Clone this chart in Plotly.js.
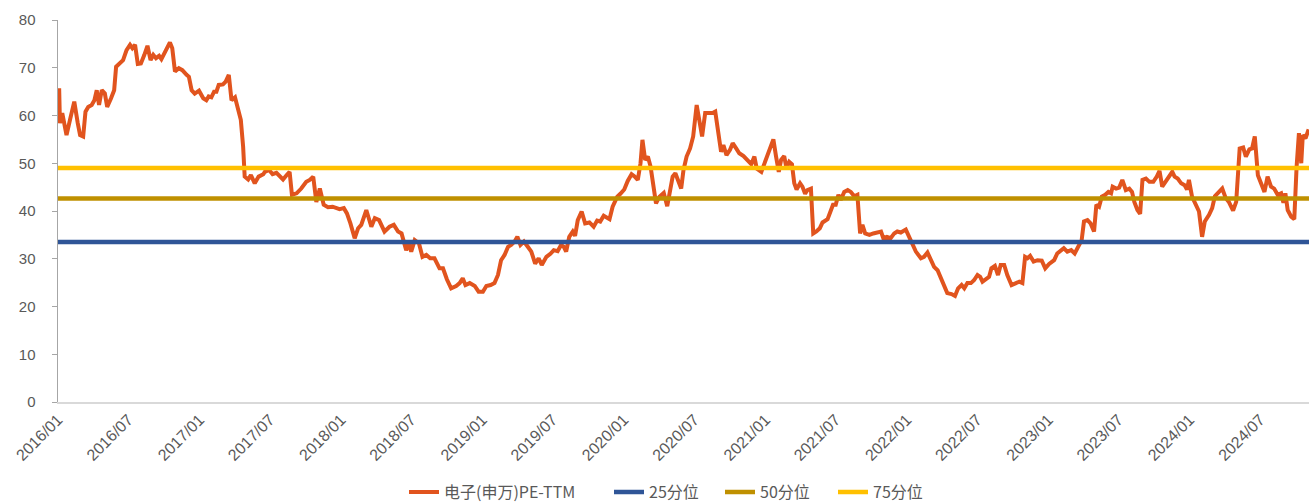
<!DOCTYPE html>
<html>
<head>
<meta charset="utf-8">
<script src="https://cdn.plot.ly/plotly-3.0.1.min.js"></script>
<style>
html,body{margin:0;padding:0;background:#fff;}
#chart{width:1314px;height:502px;}
</style>
</head>
<body>
<div id="chart"></div>
<script>
// Series: 电子(申万)PE-TTM
const dates = [
"2016-01-04","2016-01-06","2016-01-12","2016-01-17","2016-01-23","2016-02-01","2016-02-12","2016-02-21","2016-02-27","2016-03-06",
"2016-03-12","2016-03-19","2016-03-28","2016-04-04","2016-04-10","2016-04-16","2016-04-23","2016-05-01","2016-05-07","2016-05-17",
"2016-05-25","2016-05-30","2016-06-09","2016-06-17","2016-06-26","2016-07-05","2016-07-11","2016-07-18","2016-07-25","2016-08-02",
"2016-08-11","2016-08-19","2016-08-27","2016-09-03","2016-09-10","2016-09-18","2016-09-24","2016-10-03","2016-10-16","2016-10-22",
"2016-10-29","2016-11-08","2016-11-17","2016-11-28","2016-12-04","2016-12-11","2016-12-19","2016-12-30",
"2017-01-10","2017-01-18","2017-01-24","2017-01-31","2017-02-07","2017-02-13","2017-02-19","2017-03-02","2017-03-09","2017-03-17",
"2017-03-24","2017-04-02","2017-04-10","2017-04-17","2017-04-23","2017-04-27","2017-05-06","2017-05-13","2017-05-23","2017-06-02",
"2017-06-14","2017-06-18","2017-06-29","2017-07-08","2017-07-18","2017-07-27","2017-08-04","2017-08-13","2017-08-21","2017-08-27",
"2017-09-08","2017-09-20","2017-10-03","2017-10-12","2017-10-21","2017-10-29","2017-11-07","2017-11-17","2017-11-28","2017-12-10",
"2017-12-18","2017-12-28",
"2018-01-08","2018-01-16","2018-01-25","2018-02-05","2018-02-14","2018-02-22","2018-03-07","2018-03-20","2018-03-29","2018-04-09",
"2018-04-23","2018-05-06","2018-05-17","2018-05-28","2018-06-06","2018-06-11","2018-06-18","2018-06-25","2018-07-01","2018-07-10",
"2018-07-21","2018-07-30","2018-08-09","2018-08-19","2018-08-30","2018-09-12","2018-09-21","2018-10-01","2018-10-12","2018-10-25",
"2018-11-03","2018-11-11","2018-11-18","2018-11-29","2018-12-03","2018-12-12","2018-12-22",
"2019-01-02","2019-01-11","2019-01-22","2019-02-01","2019-02-10","2019-02-18","2019-02-27","2019-03-08","2019-03-16","2019-03-25",
"2019-04-01","2019-04-09","2019-04-18","2019-04-28","2019-05-07","2019-05-17","2019-05-26","2019-06-03","2019-06-15","2019-06-26",
"2019-07-04","2019-07-14","2019-07-23","2019-07-30","2019-08-05","2019-08-13","2019-08-22","2019-08-28","2019-09-04","2019-09-14",
"2019-09-23","2019-10-04","2019-10-15","2019-10-24","2019-11-01","2019-11-10","2019-11-19","2019-11-25","2019-12-03","2019-12-15",
"2019-12-23",
"2020-01-02","2020-01-11","2020-01-21","2020-01-28","2020-02-06","2020-02-13","2020-02-18","2020-02-25","2020-03-03","2020-03-10",
"2020-03-18","2020-03-24","2020-04-02","2020-04-13","2020-04-22","2020-04-27","2020-05-06","2020-05-13","2020-05-19","2020-05-28",
"2020-06-03","2020-06-11","2020-06-20","2020-06-28","2020-07-07","2020-07-14","2020-07-21","2020-07-29","2020-08-09","2020-08-17",
"2020-08-24","2020-09-02","2020-09-08","2020-09-14","2020-09-22","2020-10-01","2020-10-08","2020-10-17","2020-10-25","2020-11-05",
"2020-11-16","2020-11-25","2020-12-03","2020-12-09","2020-12-21","2020-12-29",
"2021-01-09","2021-01-21","2021-01-28","2021-02-04","2021-02-10","2021-02-18","2021-02-24","2021-03-03","2021-03-10","2021-03-16",
"2021-03-22","2021-03-31","2021-04-06","2021-04-13","2021-04-19","2021-04-28","2021-05-04","2021-05-12","2021-05-21","2021-05-28",
"2021-06-10","2021-06-18","2021-06-24","2021-07-01","2021-07-08","2021-07-14","2021-07-23","2021-08-01","2021-08-09","2021-08-18",
"2021-08-26","2021-09-02","2021-09-08","2021-09-15","2021-09-26","2021-10-06","2021-10-20","2021-10-26","2021-11-01","2021-11-10",
"2021-11-20","2021-11-29","2021-12-07","2021-12-16","2021-12-29",
"2022-01-07","2022-01-15","2022-01-24","2022-02-06","2022-02-14","2022-02-23","2022-03-04","2022-03-12","2022-03-21","2022-03-29",
"2022-04-07","2022-04-15","2022-04-26","2022-05-05","2022-05-13","2022-05-22","2022-05-29","2022-06-06","2022-06-15","2022-06-23",
"2022-07-02","2022-07-09","2022-07-15","2022-07-24","2022-08-01","2022-08-07","2022-08-16","2022-08-24","2022-08-31","2022-09-09",
"2022-09-17","2022-09-28","2022-10-09","2022-10-18","2022-10-26","2022-11-02","2022-11-08","2022-11-15","2022-11-24","2022-12-04",
"2022-12-15","2022-12-24",
"2023-01-03","2023-01-16","2023-01-24","2023-02-02","2023-02-10","2023-02-19","2023-03-01","2023-03-10","2023-03-19","2023-03-28",
"2023-04-03","2023-04-12","2023-04-20","2023-04-29","2023-05-05","2023-05-12","2023-05-19","2023-05-28","2023-06-05","2023-06-12",
"2023-06-16","2023-06-25","2023-07-03","2023-07-11","2023-07-20","2023-07-29","2023-08-05","2023-08-11","2023-08-19","2023-08-26",
"2023-09-01","2023-09-10","2023-09-19","2023-09-29","2023-10-08","2023-10-15","2023-10-22","2023-10-30","2023-11-08","2023-11-17",
"2023-11-23","2023-12-01","2023-12-10","2023-12-19","2023-12-25","2023-12-30",
"2024-01-07","2024-01-16","2024-01-25","2024-02-02","2024-02-09","2024-02-20","2024-02-28","2024-03-06","2024-03-16","2024-03-25",
"2024-04-03","2024-04-11","2024-04-22","2024-04-30","2024-05-09","2024-05-18","2024-05-25","2024-06-03","2024-06-10","2024-06-17",
"2024-06-25","2024-07-04","2024-07-12","2024-07-20","2024-07-29","2024-08-06","2024-08-15","2024-08-24","2024-08-30","2024-09-04",
"2024-09-10","2024-09-19","2024-09-27","2024-10-03","2024-10-09","2024-10-15","2024-10-19","2024-10-26","2024-11-03"
];
const peTTM = [
65.7,58.4,60.5,58.4,55.9,59.1,62.9,58.4,55.9,55.6,
60.8,61.8,62.2,63.2,65.3,62.2,65.3,64.6,61.8,63.6,
65.3,70.2,71.1,71.6,73.7,74.8,74.1,74.8,70.8,70.9,
72.7,74.6,71.6,72.7,72.0,72.5,71.8,73.4,75.3,74.1,
69.2,69.9,69.5,68.5,68.1,65.3,64.6,65.2,
63.6,63.2,64.0,63.8,65.0,65.0,66.4,66.5,67.1,68.5,
63.2,63.8,61.2,59.1,53.5,47.2,46.6,47.5,45.8,47.2,
47.7,48.2,48.6,47.7,48.0,47.3,46.6,47.5,48.2,43.4,
43.7,44.7,46.1,46.5,47.2,41.9,44.7,41.3,40.8,40.9,
40.6,40.4,
40.6,39.5,37.4,34.3,36.4,37.1,40.2,36.7,38.5,38.1,
35.7,36.7,37.1,35.7,35.3,33.9,31.8,33.2,31.5,33.9,
33.2,30.4,30.8,30.1,30.1,28.0,28.0,25.7,23.8,24.3,
24.9,25.9,24.5,24.9,24.7,24.3,23.1,
23.1,24.3,24.5,24.9,26.6,29.7,30.8,32.5,32.9,33.6,
34.6,32.9,33.6,32.5,31.5,29.0,30.1,28.7,30.4,31.1,
31.8,31.6,32.9,32.5,31.5,34.6,35.7,34.8,38.1,39.9,
37.4,37.6,36.7,38.0,37.8,39.0,38.7,38.3,40.9,43.0,
43.6,
44.5,46.3,47.7,47.3,46.5,50.0,54.9,50.7,51.4,49.3,
44.4,41.6,43.0,43.8,41.0,43.7,47.2,47.9,46.5,44.7,
48.6,51.4,53.1,55.6,62.2,58.4,55.6,60.5,60.6,60.5,
60.8,56.3,52.4,53.8,51.7,52.8,54.2,53.1,52.1,51.5,
50.7,49.8,51.4,48.9,48.2,50.0,
52.4,55.0,51.4,48.2,50.7,51.5,48.9,50.3,49.8,45.8,
44.5,45.8,45.1,43.6,44.4,44.7,35.3,35.7,36.4,37.6,
38.3,39.9,41.3,41.3,43.4,42.3,44.0,44.4,44.0,43.1,
43.4,35.3,37.1,35.3,35.0,35.3,35.5,35.7,34.3,34.6,
34.3,35.3,35.7,35.5,36.1,
34.6,33.2,31.5,30.1,30.4,31.3,29.7,28.3,27.6,25.9,
24.1,22.8,22.6,22.2,23.8,24.5,23.8,24.9,24.9,25.5,
26.6,26.2,25.2,25.7,26.2,28.0,28.5,26.6,28.7,28.7,
26.6,24.5,24.9,25.2,24.9,30.4,30.1,30.6,29.4,29.7,
29.6,28.0,
28.9,29.7,31.1,31.8,32.2,31.5,31.8,31.1,32.5,33.9,
37.8,38.1,37.4,35.7,41.3,40.9,43.0,43.4,44.0,43.7,
45.1,44.7,44.9,46.5,44.4,44.7,44.0,41.9,40.2,39.4,
46.5,46.8,46.1,46.1,47.2,48.4,45.1,46.1,47.3,48.2,
47.2,46.8,45.8,45.4,44.5,46.5,
43.0,41.3,39.9,34.6,37.8,39.2,40.6,43.1,43.8,44.7,
42.7,41.9,40.1,41.9,53.1,53.3,51.4,52.9,53.1,55.6,
47.5,45.4,44.0,47.2,45.1,44.7,43.4,43.7,41.7,43.7,
40.2,38.8,38.3,49.3,56.3,50.0,55.9,55.2,57.1
];
// Percentile levels
const levelNames = ["25分位", "50分位", "75分位"];
const levelValues = [33.5, 42.6, 49.0];
const levelColors = ["#2F5597", "#BF9000", "#FFC000"];
const seriesName = "电子(申万)PE-TTM";
const xRange = ["2016-01-01", "2024-11-04"];

const traces = [{
  x: dates, y: peTTM, type: "scatter", mode: "lines", name: seriesName,
  line: {color: "#E1541E", width: 4}, legendwidth: 160
}];
const lw = [66, 68, 70];
levelNames.forEach((n, i) => {
  traces.push({
    x: [xRange[0], xRange[1]], y: [levelValues[i], levelValues[i]],
    type: "scatter", mode: "lines", name: n,
    line: {color: levelColors[i], width: 4.5}, legendwidth: lw[i]
  });
});

const layout = {
  width: 1314, height: 502,
  margin: {l: 58, r: 5, t: 20, b: 100, autoexpand: false},
  paper_bgcolor: "#fff", plot_bgcolor: "#fff",
  font: {family: "Liberation Sans, Arial, sans-serif", color: "#595959", size: 14},
  showlegend: true,
  legend: {orientation: "h", x: 0.0, xanchor: "left", xref: "paper", y: -0.236, yanchor: "middle",
    font: {family: "Noto Sans CJK SC, sans-serif", size: 16, color: "#595959"},
    traceorder: "normal"},
  xaxis: {
    type: "date", range: xRange, dtick: "M6", tick0: "2016-01-01", automargin: false,
    tickformat: "%Y/%m", tickangle: -45, showgrid: false, zeroline: false,
    showline: true, linecolor: "#D9D9D9", linewidth: 2, ticks: "",
    tickfont: {size: 16, color: "#595959"}
  },
  yaxis: {
    range: [0, 80], dtick: 10, showgrid: false, zeroline: false, automargin: false,
    showline: true, linecolor: "#A6A6A6", linewidth: 1.5,
    ticks: "outside", ticklen: 5, tickcolor: "#A6A6A6",
    ticklabelstandoff: 13, tickfont: {size: 15, color: "#595959"}
  }
};
// place legend left edge at ~x=404px
layout.legend.x = (404 - 58) / (1314 - 58 - 5);
Plotly.newPlot("chart", traces, layout, {displayModeBar: false, staticPlot: true});
</script>
</body>
</html>
